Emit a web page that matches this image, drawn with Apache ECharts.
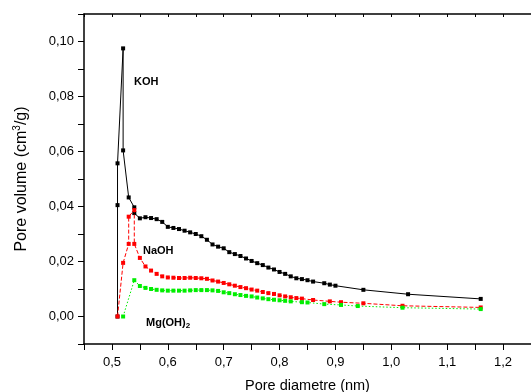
<!DOCTYPE html>
<html>
<head>
<meta charset="utf-8">
<script src="https://cdn.jsdelivr.net/npm/echarts@6/dist/echarts.min.js"></script>
<style>html,body{margin:0;padding:0;background:#fff}#c{width:531px;height:392px}</style>
</head>
<body>
<div id="c"></div>
<script>
// KOH
const kohX = [0.51,0.51,0.51,0.52,0.52,0.53,0.54,0.54,0.55,0.56,0.57,0.58,0.59,0.60,0.61,0.62,0.63,0.64,0.65,0.66,0.67,0.68,0.69,0.70,0.71,0.72,0.73,0.74,0.75,0.76,0.77,0.78,0.79,0.80,0.81,0.82,0.83,0.84,0.85,0.86,0.88,0.89,0.90,0.95,1.03,1.16];
const kohY = [0.0,0.0405,0.0557,0.0975,0.0604,0.0433,0.0397,0.0376,0.0357,0.0361,0.0358,0.0354,0.0344,0.0326,0.0322,0.0318,0.0312,0.0306,0.0300,0.0292,0.0279,0.0262,0.0254,0.0248,0.0234,0.0227,0.0220,0.0211,0.0202,0.0194,0.0187,0.0178,0.0171,0.0162,0.0155,0.0146,0.0139,0.0136,0.0132,0.0127,0.0121,0.0116,0.0112,0.0097,0.0081,0.0064];
// NaOH
const naohX = [0.51,0.52,0.53,0.53,0.54,0.54,0.55,0.56,0.57,0.58,0.59,0.60,0.61,0.62,0.63,0.64,0.65,0.66,0.67,0.68,0.69,0.70,0.71,0.72,0.73,0.74,0.75,0.76,0.77,0.78,0.79,0.80,0.81,0.82,0.83,0.84,0.86,0.89,0.91,0.95,1.02,1.16];
const naohY = [0.0,0.0195,0.0264,0.0363,0.0387,0.0264,0.0213,0.0182,0.0167,0.0155,0.0146,0.0142,0.0141,0.0140,0.0140,0.0141,0.0140,0.0139,0.0137,0.0131,0.0127,0.0122,0.0117,0.0112,0.0107,0.0103,0.0098,0.0094,0.0089,0.0085,0.0082,0.0077,0.0073,0.0070,0.0067,0.0065,0.0060,0.0055,0.0052,0.0048,0.0039,0.0033];
// Mg(OH)2
const mgX = [0.52,0.54,0.55,0.56,0.57,0.58,0.59,0.60,0.61,0.62,0.63,0.64,0.65,0.66,0.67,0.68,0.69,0.70,0.71,0.72,0.73,0.74,0.75,0.76,0.77,0.78,0.79,0.80,0.81,0.82,0.84,0.85,0.88,0.91,0.94,1.02,1.16];
const mgY = [0.0,0.0132,0.0111,0.0104,0.0100,0.0097,0.0095,0.0094,0.0094,0.0094,0.0094,0.0095,0.0096,0.0096,0.0096,0.0095,0.0093,0.0088,0.0085,0.0081,0.0078,0.0075,0.0073,0.0069,0.0066,0.0063,0.0061,0.0059,0.0057,0.0055,0.0052,0.0051,0.0045,0.0042,0.0038,0.0032,0.0027];

const zip = (xs, ys) => xs.map((x, i) => [x, ys[i]]);
const FONT = '"Liberation Sans", Arial, sans-serif';
const chart = echarts.init(document.getElementById('c'), null, {renderer: 'canvas'});

const fmtX = v => (Math.round(v * 100) % 10 === 0) ? v.toFixed(1).replace('.', ',') : '';
const fmtY = v => (Math.round(v * 100) % 2 === 0) ? v.toFixed(2).replace('.', ',').replace('-0,00','0,00') : '';

chart.setOption({
  animation: false,
  backgroundColor: '#fff',
  grid: {left: 84, top: 14, right: 0, bottom: 48, containLabel: false, outerBoundsMode: 'none'},
  xAxis: [{
    type: 'value', min: 0.45, max: 1.25, interval: 0.05,
    name: 'Pore diametre (nm)', nameLocation: 'middle', nameGap: 34,
    nameTextStyle: {fontFamily: FONT, fontSize: 14.5, color: '#000'},
    axisLine: {show: true, onZero: false, lineStyle: {color: '#000', width: 1.5}},
    axisTick: {show: true, inside: false, length: 6, lineStyle: {color: '#000'}},
    axisLabel: {formatter: fmtX, fontFamily: FONT, fontSize: 13, color: '#000', margin: 12, showMaxLabel: true},
    splitLine: {show: false}
  }, {
    type: 'value', position: 'top', min: 0.45, max: 1.25, interval: 0.05,
    axisLine: {show: true, onZero: false, lineStyle: {color: '#000', width: 1.5}},
    axisTick: {show: true, inside: true, length: 3, lineStyle: {color: '#000'}},
    axisLabel: {show: false}, splitLine: {show: false}
  }],
  yAxis: [{
    type: 'value', min: -0.01, max: 0.11, interval: 0.01,
    name: 'Pore volume (cm{sup|3}/g)', nameLocation: 'middle', nameGap: 53, nameRotate: 90,
    nameTextStyle: {fontFamily: FONT, fontSize: 16, color: '#000',
      rich: {sup: {fontFamily: FONT, fontSize: 10, color: '#000', verticalAlign: 'top', padding: [0,0,9,0]}}},
    axisLine: {show: true, onZero: false, lineStyle: {color: '#000', width: 1.5}},
    axisTick: {show: true, inside: false, length: 6, lineStyle: {color: '#000'}},
    axisLabel: {formatter: fmtY, fontFamily: FONT, fontSize: 13, color: '#000', margin: 10},
    splitLine: {show: false}
  }],
  series: [{
    name: 'KOH', type: 'line', data: zip(kohX, kohY),
    symbol: 'rect', symbolSize: 4, showSymbol: true,
    lineStyle: {color: '#000', width: 1}, itemStyle: {color: '#000'}, z: 3
  }, {
    name: 'NaOH', type: 'line', data: zip(naohX, naohY),
    symbol: 'rect', symbolSize: 4,
    lineStyle: {color: '#ff0000', width: 1, type: [4, 2]}, itemStyle: {color: '#ff0000'}, z: 4
  }, {
    name: 'Mg(OH)2', type: 'line', data: zip(mgX, mgY),
    symbol: 'rect', symbolSize: 4,
    lineStyle: {color: '#00ee00', width: 1, type: [1.5, 2]}, itemStyle: {color: '#00ee00'}, z: 5
  }],
  graphic: [
    {type: 'text', left: 134, top: 76, style: {text: 'KOH', font: 'bold 11px ' + FONT, fill: '#000'}},
    {type: 'text', left: 143, top: 245, style: {text: 'NaOH', font: 'bold 11px ' + FONT, fill: '#000'}},
    {type: 'text', left: 146, top: 317, style: {
      text: 'Mg(OH){s|2}', font: 'bold 11px ' + FONT, fill: '#000',
      rich: {s: {font: 'bold 8px ' + FONT, fill: '#000', padding: [6,0,0,0]}}
    }}
  ]
});
</script>
</body>
</html>
